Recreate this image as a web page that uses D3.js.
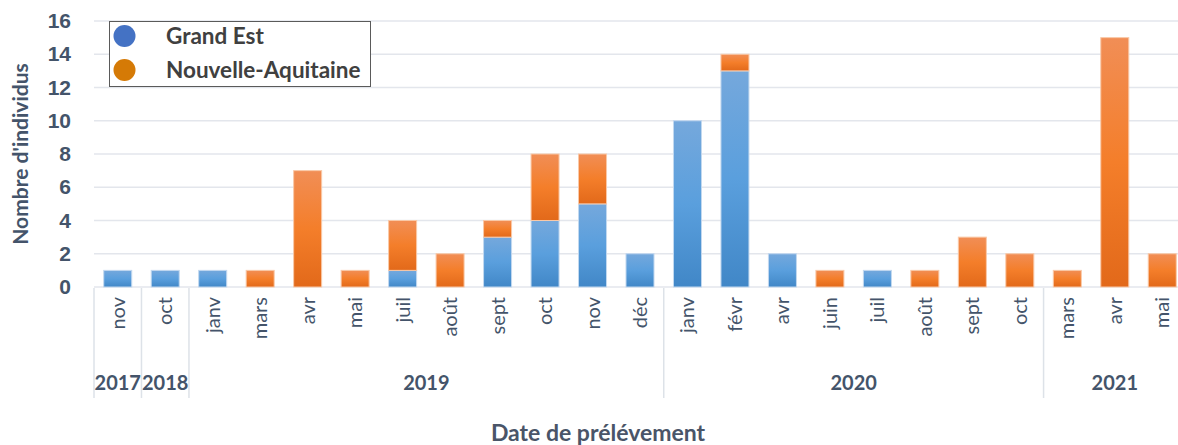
<!DOCTYPE html>
<html>
<head>
<meta charset="utf-8">
<script src="https://cdn.jsdelivr.net/npm/d3@7/dist/d3.min.js"></script>
<style>
    body { margin: 0; background: #fff; }
    svg { display: block; font-family: Lato, "Open Sans", sans-serif; }
</style>
</head>
<body>
<svg id="visualization" width="1178" height="445"></svg>
<script>
const years = ["2017", "2018", "2019", "2019", "2019", "2019", "2019", "2019", "2019", "2019", "2019", "2019",
    "2020", "2020", "2020", "2020", "2020", "2020", "2020", "2020", "2021", "2021", "2021"];
const months = ["nov", "oct", "janv", "mars", "avr", "mai", "juil", "août", "sept", "oct", "nov", "déc",
    "janv", "févr", "avr", "juin", "juil", "août", "sept", "oct", "mars", "avr", "mai"];
const grandEst = [1, 1, 1, 0, 0, 0, 1, 0, 3, 4, 5, 2, 10, 13, 2, 0, 1, 0, 0, 0, 0, 0, 0];
const nouvelleAquitaine = [0, 0, 0, 1, 7, 1, 3, 2, 1, 4, 3, 0, 0, 1, 0, 1, 0, 1, 3, 2, 1, 15, 2];
const seriesNames = ["Grand Est", "Nouvelle-Aquitaine"];
const yTicks = [0, 2, 4, 6, 8, 10, 12, 14, 16];

const textColor = "#44546a";
const legendColors = ["#4472c4", "#d57a06"];

const svg = d3.select("#visualization");
const defs = svg.append("defs");

const addGradient = (id, stops) => {
    const g = defs.append("linearGradient")
        .attr("id", id)
        .attr("x1", 0).attr("y1", 0).attr("x2", 0).attr("y2", 1);
    stops.forEach(([o, c]) => g.append("stop").attr("offset", o).attr("stop-color", c));
};
addGradient("grad-ge", [[0, "#75a8dc"], [0.5, "#5a9fdd"], [1, "#4187c7"]]);
addGradient("grad-na", [[0, "#f18e56"], [0.5, "#f47e2a"], [1, "#e2691a"]]);
const fills = ["url(#grad-ge)", "url(#grad-na)"];
const strokes = ["#c2d8ef", "#f9c9a8"];

const idx = d3.range(months.length);
const table = idx.map(i => ({ i, ge: grandEst[i], na: nouvelleAquitaine[i] }));

const xScale = d3.scaleBand()
    .domain(idx)
    .range([94, 1186])
    .paddingInner(0.41)
    .paddingOuter(0.205);
const yScale = d3.scaleLinear()
    .domain([0, 16])
    .range([287, 21]);

// gridlines
svg.append("g")
    .selectAll("line")
    .data(yTicks)
    .join("line")
    .attr("x1", 94)
    .attr("x2", 1178)
    .attr("y1", d => yScale(d))
    .attr("y2", d => yScale(d))
    .attr("stroke", "#e3e6ec")
    .attr("stroke-width", 1.6);

// y axis labels
const yAxis = svg.append("g")
    .attr("transform", "translate(71,0)")
    .call(d3.axisLeft(yScale).tickValues(yTicks).tickSize(0).tickPadding(0));
yAxis.select(".domain").remove();
yAxis.selectAll("text")
    .attr("fill", textColor)
    .attr("font-size", 21)
    .attr("font-weight", "bold");

svg.append("text")
    .attr("transform", "translate(28,154) rotate(-90)")
    .attr("text-anchor", "middle")
    .attr("fill", textColor)
    .attr("font-size", 21)
    .attr("font-weight", "bold")
    .text("Nombre d'individus");

// stacked bars
const stack = d3.stack().keys(["ge", "na"]);
const layers = stack(table);

svg.append("g")
    .selectAll("g")
    .data(layers)
    .join("g")
    .attr("fill", (d, k) => fills[k])
    .attr("stroke", (d, k) => strokes[k])
    .attr("stroke-width", 1)
    .selectAll("rect")
    .data(d => d.filter(s => s[1] > s[0]))
    .join("rect")
    .attr("x", s => xScale(s.data.i))
    .attr("width", xScale.bandwidth())
    .attr("y", s => yScale(s[1]))
    .attr("height", s => yScale(s[0]) - yScale(s[1]));

// category axis: months
const step = xScale.step();
const x0 = xScale.range()[0];

svg.append("g")
    .selectAll("text")
    .data(idx)
    .join("text")
    .attr("transform", i => `translate(${xScale(i) + xScale.bandwidth() / 2},297) rotate(-90)`)
    .attr("text-anchor", "end")
    .attr("dy", "0.35em")
    .attr("fill", "#44546a")
    .attr("font-size", 20)
    .text(i => months[i]);

// year groups
const groups = [];
years.forEach((y, i) => {
    const last = groups[groups.length - 1];
    if (last && last.year === y) last.end = i + 1;
    else groups.push({ year: y, start: i, end: i + 1 });
});

const sepX = [x0].concat(groups.map(g => x0 + g.end * step));
svg.append("g")
    .selectAll("line")
    .data(sepX)
    .join("line")
    .attr("x1", d => d)
    .attr("x2", d => d)
    .attr("y1", 288)
    .attr("y2", 398)
    .attr("stroke", "#dde2e8")
    .attr("stroke-width", 1.5);

svg.append("g")
    .selectAll("text")
    .data(groups)
    .join("text")
    .attr("x", g => x0 + (g.start + g.end) / 2 * step)
    .attr("y", 390)
    .attr("text-anchor", "middle")
    .attr("fill", textColor)
    .attr("font-size", 20)
    .attr("font-weight", "bold")
    .text(g => g.year);

svg.append("text")
    .attr("x", 598)
    .attr("y", 441)
    .attr("text-anchor", "middle")
    .attr("fill", "#4a5568")
    .attr("font-size", 23)
    .attr("font-weight", "bold")
    .text("Date de prélévement");

// legend
const legend = svg.append("g");
legend.append("rect")
    .attr("x", 109.5)
    .attr("y", 21.5)
    .attr("width", 261)
    .attr("height", 65)
    .attr("fill", "#fff")
    .attr("stroke", "#5a5a5a")
    .attr("stroke-width", 1);
const items = legend.selectAll("g.item")
    .data(seriesNames)
    .join("g")
    .attr("class", "item")
    .attr("transform", (d, k) => `translate(0,${36 + k * 34})`);
items.append("circle")
    .attr("cx", 124.5)
    .attr("r", 11)
    .attr("fill", (d, k) => legendColors[k]);
items.append("text")
    .attr("x", 166)
    .attr("dy", "0.35em")
    .attr("fill", "#404040")
    .attr("font-size", 22.5)
    .attr("font-weight", "bold")
    .text(d => d);
</script>
</body>
</html>
